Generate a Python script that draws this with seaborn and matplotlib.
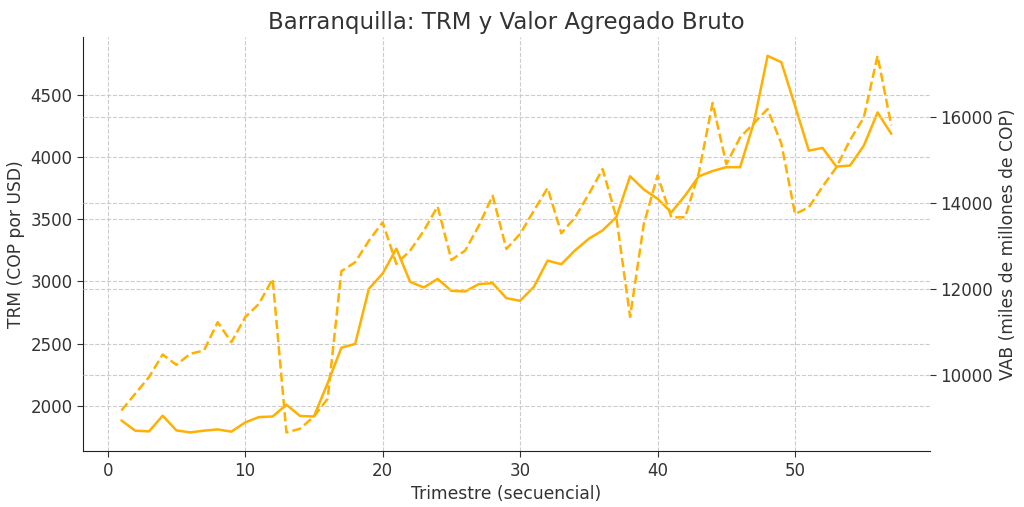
import numpy as np
import pandas as pd
import matplotlib
matplotlib.use("Agg")
import matplotlib.pyplot as plt
import seaborn as sns

trimestre = list(range(1, 58))
trm = [1882, 1800, 1794, 1920, 1802, 1786, 1800, 1810, 1792, 1866,
       1909, 1914, 2008, 1918, 1914, 2182, 2467, 2497, 2940, 3063,
       3263, 2996, 2951, 3020, 2924, 2919, 2978, 2986, 2865, 2844,
       2956, 3167, 3138, 3250, 3343, 3410, 3517, 3845, 3739, 3664,
       3555, 3690, 3845, 3887, 3918, 3918, 4275, 4813, 4762, 4410,
       4051, 4073, 3923, 3931, 4091, 4358, 4186]
vab = [9189, 9576, 9961, 10486, 10247, 10502, 10579, 11235, 10772, 11351,
       11660, 12240, 8680, 8765, 9050, 9460, 12420, 12625, 13127, 13551,
       12587, 12896, 13359, 13922, 12680, 12896, 13475, 14170, 12935, 13282,
       13822, 14348, 13297, 13668, 14209, 14788, 13668, 11360, 13514, 14640,
       13668, 13668, 14700, 16320, 14903, 15520, 15850, 16178, 15380, 13745,
       13899, 14380, 14826, 15460, 15983, 17413, 15800]

df = pd.DataFrame({"trimestre": trimestre, "trm": trm, "vab": vab})

sns.set_style("white")
plt.rcParams["text.color"] = "#333333"
plt.rcParams["axes.labelcolor"] = "#333333"
plt.rcParams["xtick.color"] = "#333333"
plt.rcParams["ytick.color"] = "#333333"

color = "#FFB000"
fig, ax = plt.subplots(figsize=(10.24, 5.07), dpi=100)
sns.lineplot(data=df, x="trimestre", y="trm", ax=ax, color=color, linewidth=1.8)
ax2 = ax.twinx()
sns.lineplot(data=df, x="trimestre", y="vab", ax=ax2, color=color, linewidth=1.8,
             linestyle="--")

ax.set_title("Barranquilla: TRM y Valor Agregado Bruto", fontsize=16.5)
ax.set_xlabel("Trimestre (secuencial)", fontsize=12.3)
ax.set_ylabel("TRM (COP por USD)", fontsize=12.3)
ax2.set_ylabel("VAB (miles de millones de COP)", fontsize=12.3)

for a in (ax, ax2):
    a.tick_params(axis="both", labelsize=12, length=4, direction="out",
                  left=(a is ax), right=(a is ax2), bottom=(a is ax))
    a.grid(True, linestyle="--", color="#cccccc", linewidth=0.8)
    for s in ("top", "right"):
        a.spines[s].set_visible(False)
ax2.spines["left"].set_visible(False)
ax2.spines["bottom"].set_visible(False)
ax2.grid(axis="x", visible=False)
ax.spines["left"].set_color("#222222")
ax.spines["bottom"].set_color("#222222")
ax.set_xticks([0, 10, 20, 30, 40, 50])
ax2.set_yticks([10000, 12000, 14000, 16000])

fig.subplots_adjust(left=0.081, right=0.908, top=0.927, bottom=0.11)
fig.savefig("out.png", dpi=100)
